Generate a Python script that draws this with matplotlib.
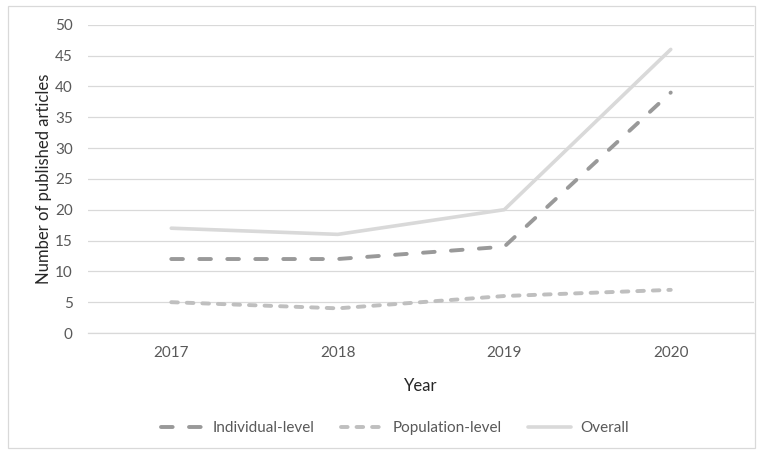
import matplotlib.pyplot as plt
from matplotlib.lines import Line2D
from matplotlib.patches import Rectangle

years = ["2017", "2018", "2019", "2020"]
individual = [12, 12, 14, 39]
population = [5, 4, 6, 7]
overall = [17, 16, 20, 46]

plt.rcParams["font.family"] = ["Lato", "DejaVu Sans"]
text_color = "#595959"

fig = plt.figure(figsize=(7.62, 4.54), dpi=100)
ax = fig.add_axes([0.1155, 0.2665, 0.874, 0.679])

ind_style = dict(color="#999999", lw=2.8, dashes=(3.0, 4.2), dash_capstyle="round")
pop_style = dict(color="#bfbfbf", lw=2.8, dashes=(1.7, 2.3), dash_capstyle="round")
all_style = dict(color="#d9d9d9", lw=2.6, solid_capstyle="round")

x = range(len(years))
ax.plot(x, overall, zorder=3, **all_style)
ax.plot(x, individual, zorder=4, **ind_style)
ax.plot(x, population, zorder=4, **pop_style)

ax.set_xlim(-0.5, 3.5)
ax.set_ylim(0, 50)
ax.set_yticks(range(0, 51, 5))
ax.set_xticks(list(x))
ax.set_xticklabels(years)
ax.grid(axis="y", color="#d9d9d9", lw=0.9)
ax.set_axisbelow(True)
for side in ["top", "right", "left"]:
    ax.spines[side].set_visible(False)
ax.spines["bottom"].set_color("#d9d9d9")
ax.spines["bottom"].set_linewidth(0.9)
ax.tick_params(length=0, labelsize=11, labelcolor=text_color, pad=11)
ax.tick_params(axis="x", pad=9)

ax.set_xlabel("Year", fontsize=12, color="#262626", labelpad=13)
ax.set_ylabel("Number of published articles", fontsize=12, color="#262626", labelpad=2)

handles = [Line2D([0], [0], **ind_style),
           Line2D([0], [0], **pop_style),
           Line2D([0], [0], **all_style)]
fig.legend(handles, ["Individual-level", "Population-level", "Overall"],
           loc="center", bbox_to_anchor=(0.518, 0.057), ncol=3, frameon=False,
           fontsize=11, labelcolor=text_color, handlelength=2.8, columnspacing=1.7,
           handletextpad=0.6)

# thin frame around the whole chart
fig.patches.append(Rectangle((8 / 762, 6 / 454), 747 / 762, 442 / 454,
                             transform=fig.transFigure, fill=False,
                             edgecolor="#d9d9d9", lw=0.9))

fig.savefig("out.png", dpi=100)
